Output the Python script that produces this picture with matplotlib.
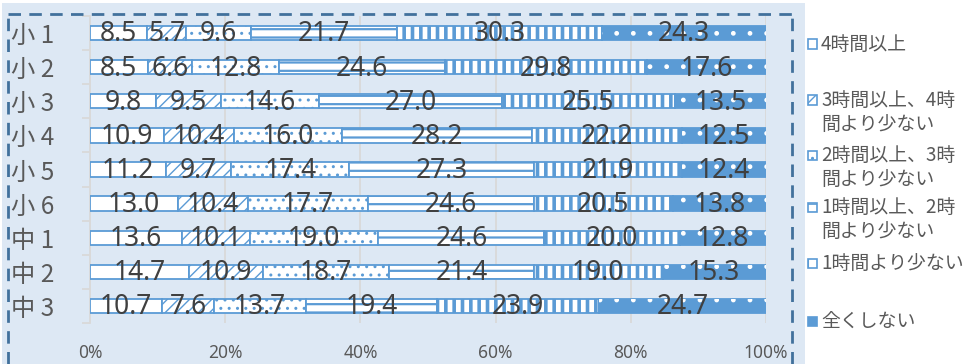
import numpy as np
import matplotlib
matplotlib.use("Agg")
import matplotlib.pyplot as plt
from matplotlib.patches import Rectangle
from matplotlib.lines import Line2D

categories = ["小 1", "小 2", "小 3", "小 4", "小 5", "小 6", "中 1", "中 2", "中 3"]
series_names = ["4時間以上", "3時間以上、4時\n間より少ない", "2時間以上、3時\n間より少ない",
                "1時間以上、2時\n間より少ない", "1時間より少ない", "全くしない"]
s1 = [8.5, 8.5, 9.8, 10.9, 11.2, 13.0, 13.6, 14.7, 10.7]
s2 = [5.7, 6.6, 9.5, 10.4, 9.7, 10.4, 10.1, 10.9, 7.6]
s3 = [9.6, 12.8, 14.6, 16.0, 17.4, 17.7, 19.0, 18.7, 13.7]
s4 = [21.7, 24.6, 27.0, 28.2, 27.3, 24.6, 24.6, 21.4, 19.4]
s5 = [30.3, 29.8, 25.5, 22.2, 21.9, 20.5, 20.0, 19.0, 23.9]
s6 = [24.3, 17.6, 13.5, 12.5, 12.4, 13.8, 12.8, 15.3, 24.7]
xticks = [0, 0.2, 0.4, 0.6, 0.8, 1.0]

BLUE = "#5b9bd5"
BG = "#dde8f4"
W, H = 969, 364

fig = plt.figure(figsize=(9.69, 3.64), dpi=100)
fig.patch.set_facecolor("white")

# background panel
fig.add_artist(Rectangle((2 / W, 0), 803 / W, 361 / H, transform=fig.transFigure,
                         facecolor=BG, edgecolor="none", zorder=0))
# dashed border
dash_kw = dict(transform=fig.transFigure, color="#41719c", lw=2.0,
               linestyle=(0, (4.5, 3)), zorder=1)
fig.add_artist(Line2D([8 / W, 8 / W], [0, 1 - 14 / H], **dash_kw))
fig.add_artist(Line2D([8 / W, 792 / W], [1 - 14 / H, 1 - 14 / H], **dash_kw))
fig.add_artist(Line2D([792 / W, 792 / W], [0, 1 - 14 / H], **dash_kw))

ax = fig.add_axes([90 / W, (H - 323) / H, 676 / W, 307 / H])
ax.set_facecolor("none")

data = np.array([s1, s2, s3, s4, s5, s6], dtype=float)
totals = data.sum(axis=0)
frac = data / totals
y = np.arange(len(categories))
bh = 0.42

hatches = [None, "///", "..", "--", "||", None]
hlw = [1.0, 1.0, 1.0, 1.6, 2.6, 1.0]
left = np.zeros(len(categories))
for i in range(6):
    plt.rcParams["hatch.linewidth"] = hlw[i]
    if i < 5:
        bars = ax.barh(y, frac[i], left=left, height=bh, color="white",
                       edgecolor=BLUE, linewidth=1.3, hatch=hatches[i], zorder=3)
    else:
        bars = ax.barh(y, frac[i], left=left, height=bh, color=BLUE,
                       edgecolor=BLUE, linewidth=1.3, zorder=3)
        over = ax.barh(y, frac[i], left=left, height=bh, color="none",
                       edgecolor="white", linewidth=0, hatch=".", zorder=4)
    for b in bars:
        try:
            b.set_hatch_linewidth(hlw[i])
        except AttributeError:
            pass
    for j in range(len(categories)):
        ax.text(left[j] + frac[i][j] / 2, y[j] + 0.04, f"{data[i][j]:.1f}",
                ha="center", va="center", fontsize=19, color="#404040",
                family="Noto Sans", zorder=6)
    left += frac[i]

ax.set_xlim(0, 1)
ax.set_ylim(len(categories) - 0.5, -0.5)
ax.set_xticks(xticks)
ax.set_xticklabels([f"{int(round(t * 100))}%" for t in xticks],
                   fontsize=12.5, color="#595959", family="Noto Sans")
ax.tick_params(axis="x", length=0, pad=15)
ax.grid(axis="x", color="#d9d9d9", linewidth=1.3, zorder=0)
ax.set_axisbelow(True)
for s in ["top", "right", "bottom"]:
    ax.spines[s].set_visible(False)
ax.spines["left"].set_color("#d9d9d9")
ax.spines["left"].set_linewidth(1.3)

ax.set_yticks(y)
ax.set_yticklabels(categories, fontsize=17.5, color="#595959",
                   family=["Noto Sans CJK JP", "DejaVu Sans"])
for lab in ax.get_yticklabels():
    lab.set_horizontalalignment("left")
ax.tick_params(axis="y", which="major", length=0, pad=57)
ax.set_yticks(np.arange(len(categories) + 1) - 0.5, minor=True)
ax.tick_params(axis="y", which="minor", length=6, width=1.3, color="#d9d9d9",
               direction="out")

# legend
leg_y = [44, 100, 155, 207, 263, 321]
line_gap = 24
for i, name in enumerate(series_names):
    yc = 1 - leg_y[i] / H
    x0 = 808 / W
    sw, sh = 9 / W, 9 / H
    plt.rcParams["hatch.linewidth"] = 1.0
    if i < 5:
        r = Rectangle((x0, yc - sh / 2), sw, sh, transform=fig.transFigure,
                      facecolor="white", edgecolor=BLUE, linewidth=1.2,
                      hatch=hatches[i] if i != 4 else "|", zorder=5)
    else:
        r = Rectangle((x0, yc - sh / 2), sw, sh, transform=fig.transFigure,
                      facecolor=BLUE, edgecolor=BLUE, linewidth=1.2, zorder=5)
    fig.add_artist(r)
    for k, line in enumerate(name.split("\n")):
        fig.text(821 / W, 1 - (leg_y[i] + k * line_gap) / H, line, ha="left",
                 va="center", fontsize=13.6, color="#595959",
                 family=["Noto Sans CJK JP", "DejaVu Sans"])

fig.savefig("out.png", dpi=100)
